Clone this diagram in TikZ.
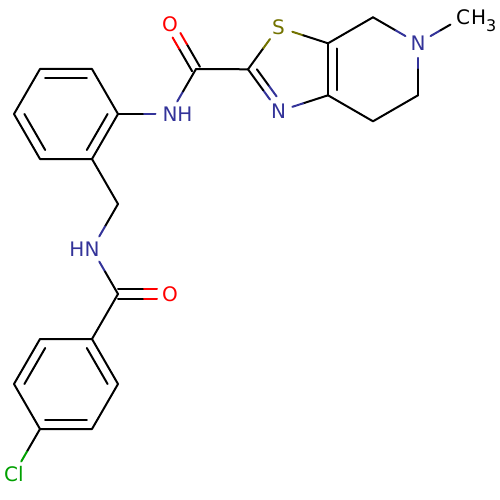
\documentclass[tikz,border=0pt]{standalone}
\usepackage{fontspec}
\setmainfont{DejaVu Sans}
\usetikzlibrary{calc}
\definecolor{nblue}{RGB}{51,51,153}
\definecolor{sol}{RGB}{115,115,0}
\definecolor{ored}{RGB}{255,0,0}
\definecolor{clg}{RGB}{0,160,0}
% split-colour single bond
\newcommand\bnd[4]{\draw[#3] (#1) -- ($(#1)!0.5!(#2)$); \draw[#4] ($(#1)!0.5!(#2)$) -- (#2);}
% inner line of a ring double bond
\newcommand\innerbond[3]{\draw ($(#3)!0.8!(#1)$) -- ($(#3)!0.8!(#2)$);}
% symmetric C=O double bond
\newcommand\dblco[3]{%
  \foreach \ang in {90,-90}{%
    \coordinate (dA) at ($(#1)!#3!\ang:(#2)$);
    \coordinate (dB) at ($(dA)+(#2)-(#1)$);
    \coordinate (dM) at ($(dA)!0.5!(dB)$);
    \draw (dA) -- (dM);
    \draw[ored, shorten >=13pt] (dM) -- (dB);
  }}
\begin{document}
\begin{tikzpicture}[x=1pt,y=-1pt, line width=2pt, line cap=round, line join=round,
  atom/.style={circle, minimum size=27pt, inner sep=0pt, font=\fontsize{20}{24}\selectfont},
  hlbl/.style={inner sep=0pt, font=\fontsize{20}{24}\selectfont}]
\useasboundingbox (0,0) rectangle (500,500);
% upper benzene
\coordinate (a1) at (40,69);
\coordinate (a2) at (92,69);
\coordinate (a3) at (118,114);
\coordinate (a4) at (92,159);
\coordinate (a5) at (40,159);
\coordinate (a6) at (14,114);
\coordinate (rc1) at (66,114);
% amide 1 and thiazole
\node[atom, text=nblue] (n1) at (170,114) {N};
\node[hlbl, text=nblue] (h1) at ([xshift=15pt]n1.center) {H};
\coordinate (c1) at (196,69);
\node[atom, text=ored] (o1) at (170,24) {O};
\coordinate (c2) at (248,69.3);
\node[atom, text=sol] (s1) at (278.5,27.3) {S};
\node[atom, text=nblue] (n3) at (278.5,111.3) {N};
\coordinate (c7a) at (328,43.3);
\coordinate (c3a) at (328,95.3);
\coordinate (tc) at (292.5,69.3);
% piperidine ring
\coordinate (c4) at (373,17.3);
\node[atom, text=nblue] (n5) at (418,43.3) {N};
\coordinate (c6) at (418,95.3);
\coordinate (c7) at (373,121.3);
\coordinate (pc) at (373,69.3);
\node[atom] (me) at (463,17.3) {C};
\node[hlbl, anchor=base west] (h3) at ([xshift=7pt,yshift=-7.3pt]me.center) {H\raisebox{-7pt}{\fontsize{16}{16}\selectfont 3}};
% linker and amide 2
\coordinate (l1) at (118,204);
\node[atom, text=nblue] (n2) at (92,249) {N};
\node[hlbl, text=nblue] (h2) at ([xshift=-15pt]n2.center) {H};
\coordinate (c8) at (118,294);
\node[atom, text=ored] (o2) at (170,294) {O};
% lower benzene
\coordinate (b1) at (92,339);
\coordinate (b2) at (40,339);
\coordinate (b3) at (14,384);
\coordinate (b4) at (40,429);
\coordinate (b5) at (92,429);
\coordinate (b6) at (118,384);
\coordinate (rc2) at (66,384);
\node[atom, text=clg] (cl) at (14,474) {Cl};

% bonds: upper benzene
\draw (a1) -- (a2) -- (a3) -- (a4) -- (a5) -- (a6) -- cycle;
\innerbond{a1}{a2}{rc1}
\innerbond{a6}{a5}{rc1}
\innerbond{a3}{a4}{rc1}
\bnd{a3}{n1}{black}{nblue}
\bnd{n1}{c1}{nblue}{black}
\dblco{c1}{o1}{4.5pt}
\draw (c1) -- (c2);
% thiazole
\bnd{c2}{s1}{black}{sol}
\bnd{s1}{c7a}{sol}{black}
\draw (c7a) -- (c3a);
\innerbond{c7a}{c3a}{pc}
\bnd{c3a}{n3}{black}{nblue}
\bnd{n3}{c2}{nblue}{black}
\coordinate (ia) at ($(tc)!0.8!(c2)$);
\coordinate (ib) at ($(tc)!0.8!(n3)$);
\draw (ia) -- ($(ia)!0.5!(ib)$);
\draw[nblue, shorten >=8pt] ($(ia)!0.5!(ib)$) -- (ib);
% piperidine
\draw (c7a) -- (c4);
\bnd{c4}{n5}{black}{nblue}
\bnd{n5}{c6}{nblue}{black}
\draw (c6) -- (c7) -- (c3a);
\bnd{n5}{me}{nblue}{black}
% linker
\draw (a4) -- (l1);
\bnd{l1}{n2}{black}{nblue}
\bnd{n2}{c8}{nblue}{black}
\dblco{c8}{o2}{4.75pt}
\draw (c8) -- (b1);
% lower benzene
\draw (b1) -- (b2) -- (b3) -- (b4) -- (b5) -- (b6) -- cycle;
\innerbond{b2}{b3}{rc2}
\innerbond{b1}{b6}{rc2}
\innerbond{b4}{b5}{rc2}
\bnd{b4}{cl}{black}{clg}
\end{tikzpicture}
\end{document}
